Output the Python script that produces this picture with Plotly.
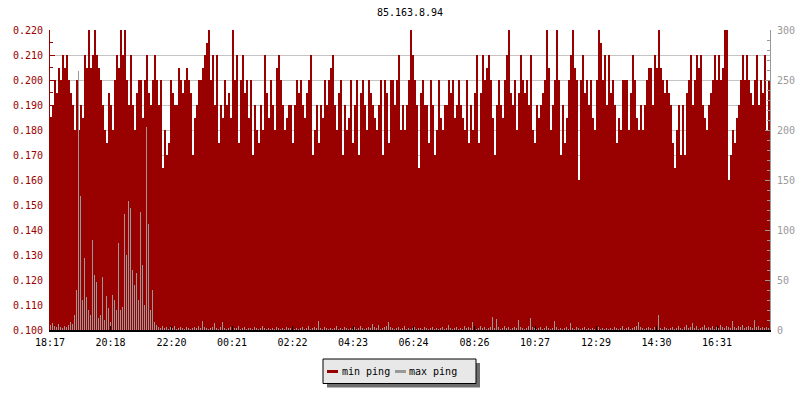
import plotly.graph_objects as go

# ---------------- data ----------------
title_text = "85.163.8.94"
start_time = "18:17"
sample_interval_min = 4

tick_labels = ["18:17", "20:18", "22:20", "00:21", "02:22", "04:23",
               "06:24", "08:26", "10:27", "12:29", "14:30", "16:31"]

min_ping = [
    0.185, 0.19, 0.2, 0.195, 0.205, 0.2, 0.21, 0.205, 0.21, 0.2,
    0.195, 0.19, 0.18, 0.2, 0.18, 0.19, 0.185, 0.21, 0.205, 0.22,
    0.205, 0.21, 0.22, 0.21, 0.205, 0.2, 0.19, 0.18, 0.175, 0.195,
    0.19, 0.18, 0.2, 0.21, 0.205, 0.22, 0.21, 0.22, 0.2, 0.19,
    0.21, 0.19, 0.18, 0.195, 0.2, 0.2, 0.185, 0.2, 0.21, 0.195,
    0.19, 0.2, 0.21, 0.2, 0.19, 0.2, 0.165, 0.18, 0.17, 0.175,
    0.2, 0.195, 0.19, 0.19, 0.205, 0.2, 0.195, 0.2, 0.205, 0.2,
    0.195, 0.17, 0.185, 0.19, 0.2, 0.2, 0.205, 0.21, 0.215, 0.22,
    0.2, 0.21, 0.19, 0.21, 0.175, 0.19, 0.185, 0.2, 0.19, 0.195,
    0.185, 0.22, 0.2, 0.21, 0.175, 0.2, 0.21, 0.195, 0.2, 0.185,
    0.2, 0.17, 0.19, 0.18, 0.175, 0.19, 0.18, 0.21, 0.195, 0.185,
    0.2, 0.19, 0.18, 0.205, 0.21, 0.2, 0.19, 0.18, 0.185, 0.19,
    0.19, 0.175, 0.19, 0.2, 0.195, 0.2, 0.19, 0.185, 0.195, 0.2,
    0.21, 0.17, 0.18, 0.19, 0.175, 0.19, 0.185, 0.2, 0.19, 0.2,
    0.205, 0.21, 0.19, 0.18, 0.195, 0.2, 0.17, 0.19, 0.18, 0.185,
    0.2, 0.175, 0.19, 0.2, 0.17, 0.195, 0.2, 0.19, 0.18, 0.2,
    0.195, 0.19, 0.185, 0.18, 0.19, 0.2, 0.17, 0.2, 0.195, 0.175,
    0.2, 0.2, 0.19, 0.2, 0.21, 0.18, 0.19, 0.18, 0.19, 0.2,
    0.22, 0.21, 0.2, 0.19, 0.165, 0.195, 0.2, 0.19, 0.19, 0.175,
    0.2, 0.19, 0.17, 0.18, 0.2, 0.185, 0.18, 0.19, 0.19, 0.2,
    0.195, 0.2, 0.185, 0.19, 0.2, 0.19, 0.185, 0.18, 0.2, 0.175,
    0.19, 0.18, 0.195, 0.21, 0.175, 0.195, 0.21, 0.2, 0.205, 0.21,
    0.2, 0.185, 0.17, 0.19, 0.2, 0.19, 0.185, 0.2, 0.21, 0.22,
    0.195, 0.19, 0.2, 0.18, 0.195, 0.21, 0.2, 0.195, 0.2, 0.19,
    0.21, 0.18, 0.175, 0.19, 0.185, 0.19, 0.195, 0.2, 0.22, 0.205,
    0.18, 0.19, 0.2, 0.22, 0.2, 0.17, 0.19, 0.175, 0.185, 0.2,
    0.21, 0.22, 0.205, 0.2, 0.16, 0.2, 0.21, 0.195, 0.2, 0.19,
    0.2, 0.185, 0.18, 0.2, 0.22, 0.215, 0.2, 0.21, 0.19, 0.21,
    0.195, 0.2, 0.19, 0.175, 0.185, 0.18, 0.2, 0.2, 0.2, 0.18,
    0.195, 0.21, 0.2, 0.185, 0.18, 0.19, 0.18, 0.19, 0.2, 0.205,
    0.205, 0.19, 0.21, 0.205, 0.22, 0.205, 0.2, 0.195, 0.2, 0.195,
    0.19, 0.175, 0.165, 0.18, 0.19, 0.17, 0.19, 0.17, 0.195, 0.2,
    0.21, 0.19, 0.2, 0.21, 0.205, 0.21, 0.19, 0.185, 0.18, 0.19,
    0.195, 0.2, 0.21, 0.2, 0.21, 0.2, 0.205, 0.22, 0.22, 0.16,
    0.17, 0.18, 0.175, 0.185, 0.19, 0.2, 0.21, 0.2, 0.21, 0.2,
    0.195, 0.19, 0.2, 0.21, 0.19, 0.2, 0.195, 0.21, 0.18, 0.2,
]

max_ping = [
    5, 7, 4, 3, 6, 3, 2, 4, 3, 5,
    8, 6, 15, 40, 259, 134, 30, 72, 33, 20,
    15, 90, 55, 48, 12, 15, 53, 10, 34, 22,
    8, 35, 30, 20, 87, 20, 23, 116, 75, 129,
    122, 60, 45, 57, 30, 118, 65, 25, 203, 106,
    20, 40, 8, 5, 3, 2, 4, 2, 3, 1,
    3, 2, 4, 1, 2, 3, 2, 1, 3, 2,
    1, 2, 3, 2, 4, 2, 9, 3, 2, 1,
    2, 3, 7, 2, 1, 3, 8, 2, 1, 2,
    3, 1, 2, 2, 4, 1, 2, 3, 1, 2,
    2, 1, 3, 2, 1, 2, 4, 2, 1, 2,
    1, 2, 1, 3, 2, 1, 2, 1, 3, 2,
    2, 3, 1, 2, 1, 2, 3, 1, 2, 4,
    1, 2, 3, 2, 9, 2, 1, 3, 2, 1,
    2, 1, 2, 4, 1, 2, 1, 3, 2, 1,
    2, 1, 3, 1, 2, 4, 2, 1, 2, 3,
    2, 6, 3, 2, 5, 1, 2, 3, 4, 8,
    3, 2, 1, 2, 3, 1, 2, 4, 1, 2,
    1, 2, 3, 1, 2, 2, 1, 3, 2, 1,
    2, 3, 1, 2, 1, 2, 3, 1, 2, 5,
    2, 1, 2, 3, 1, 2, 1, 4, 2, 3,
    2, 8, 3, 1, 2, 4, 2, 3, 1, 2,
    3, 13, 2, 11, 3, 1, 2, 4, 2, 3,
    1, 2, 3, 2, 10, 3, 2, 1, 2, 4,
    12, 3, 2, 1, 2, 3, 1, 2, 4, 2,
    1, 2, 9, 3, 1, 2, 1, 2, 3, 1,
    7, 2, 1, 3, 2, 1, 2, 3, 1, 2,
    1, 2, 1, 2, 3, 1, 2, 1, 2, 1,
    2, 1, 3, 2, 1, 2, 4, 1, 2, 3,
    1, 2, 3, 4, 8, 3, 2, 1, 2, 3,
    2, 1, 3, 2, 15, 2, 1, 3, 2, 1,
    2, 3, 1, 2, 4, 2, 1, 3, 5, 2,
    3, 7, 2, 4, 1, 2, 3, 5, 2, 3,
    2, 4, 1, 3, 2, 5, 3, 2, 4, 3,
    2, 9, 3, 2, 4, 3, 5, 2, 3, 4,
    3, 2, 10, 3, 4, 2, 3, 2, 3, 2,
]

legend_names = ["min ping", "max ping"]

# ---------------- styling ----------------
RED = "#990000"
GRAY = "#999999"
FONT = "DejaVu Sans Mono"
W, H = 800, 400
ML, MR, MT, MB = 50, 30, 30, 70
PW, PH = W - ML - MR, H - MT - MB


def to_min(label):
    h, m = label.split(":")
    sh, sm = start_time.split(":")
    return ((int(h) * 60 + int(m)) - (int(sh) * 60 + int(sm))) % 1440


n = len(min_ping)
x_starts = [i * sample_interval_min for i in range(n)]
x_end = n * sample_interval_min
tick_vals = [to_min(t) for t in tick_labels]

fig = go.Figure()
fig.add_trace(go.Bar(
    x=x_starts, y=min_ping, width=sample_interval_min, offset=0,
    marker=dict(color=RED, line=dict(width=0)),
    name=legend_names[0], showlegend=False, yaxis="y",
))
fig.add_trace(go.Bar(
    x=x_starts, y=max_ping, width=sample_interval_min / 2, offset=0,
    marker=dict(color=GRAY, line=dict(width=0)),
    name=legend_names[1], showlegend=False, yaxis="y2",
))


def px(xp):
    return (xp - ML) / PW


def py(yp):
    return (H - MB - yp) / PH


shapes = [
    # legend shadow
    dict(type="rect", xref="paper", yref="paper",
         x0=px(327), x1=px(480), y0=py(387.5), y1=py(363),
         fillcolor="#6e6e6e", line=dict(width=0), layer="above"),
    # legend box
    dict(type="rect", xref="paper", yref="paper",
         x0=px(323), x1=px(476), y0=py(383.5), y1=py(359),
         fillcolor="#e8e8e8", line=dict(color="black", width=1), layer="above"),
    dict(type="line", xref="paper", yref="paper",
         x0=px(327), x1=px(338), y0=py(371.5), y1=py(371.5),
         line=dict(color=RED, width=3), layer="above"),
    dict(type="line", xref="paper", yref="paper",
         x0=px(395), x1=px(406), y0=py(371.5), y1=py(371.5),
         line=dict(color=GRAY, width=3), layer="above"),
]

annotations = [
    dict(text=legend_names[0], xref="paper", yref="paper",
         x=px(340), y=py(371), xanchor="left", yanchor="middle",
         showarrow=False, font=dict(family=FONT, size=10, color="black")),
    dict(text=legend_names[1], xref="paper", yref="paper",
         x=px(407), y=py(371), xanchor="left", yanchor="middle",
         showarrow=False, font=dict(family=FONT, size=10, color="black")),
]

fig.update_layout(
    width=W, height=H,
    margin=dict(l=ML, r=MR, t=MT, b=MB, pad=0, autoexpand=False),
    paper_bgcolor="white", plot_bgcolor="white",
    barmode="overlay", bargap=0,
    showlegend=False,
    font=dict(family=FONT, size=10, color="black"),
    title=dict(text=title_text, x=0.5, xref="paper", xanchor="center",
               y=1 - 12 / H, yref="container", yanchor="middle",
               automargin=False,
               font=dict(family=FONT, size=10, color="black")),
    xaxis=dict(
        range=[0, x_end], tickvals=tick_vals, ticktext=tick_labels,
        showgrid=False, zeroline=False, automargin=False,
        showline=True, linecolor="black", linewidth=2,
        ticks="inside", ticklen=4, tickcolor="black", tickwidth=1,
        tickfont=dict(family=FONT, size=10, color="black"),
        ticklabelstandoff=2,
    ),
    yaxis=dict(
        range=[0.1, 0.2201], tickvals=[0.1 + 0.01 * k for k in range(13)],
        tickformat=".3f",
        showgrid=True, gridcolor="#c4c4c4", gridwidth=1, zeroline=False,
        automargin=False,
        showline=True, linecolor=RED, linewidth=1,
        ticks="inside", ticklen=5, tickcolor=RED, tickwidth=1,
        minor=dict(dtick=0.005, tick0=0.1, ticks="inside", ticklen=3,
                   tickcolor=RED, showgrid=False),
        tickfont=dict(family=FONT, size=10, color=RED),
        ticklabelstandoff=4,
    ),
    yaxis2=dict(
        range=[0, 300.25], dtick=50, overlaying="y", side="right",
        showgrid=False, zeroline=False, automargin=False,
        showline=True, linecolor=GRAY, linewidth=1,
        ticks="inside", ticklen=5, tickcolor=GRAY, tickwidth=1,
        minor=dict(dtick=10, ticks="inside", ticklen=3,
                   tickcolor=GRAY, showgrid=False),
        tickfont=dict(family=FONT, size=10, color=GRAY),
        ticklabelstandoff=4,
    ),
    shapes=shapes,
    annotations=annotations,
)

# remove the browser's default 8px page margin so the figure sits at (0, 0)
fig.write_html(
    "out.html",
    config={"displayModeBar": False},
    post_script="document.body.style.margin='0px';document.body.style.padding='0px';",
)
